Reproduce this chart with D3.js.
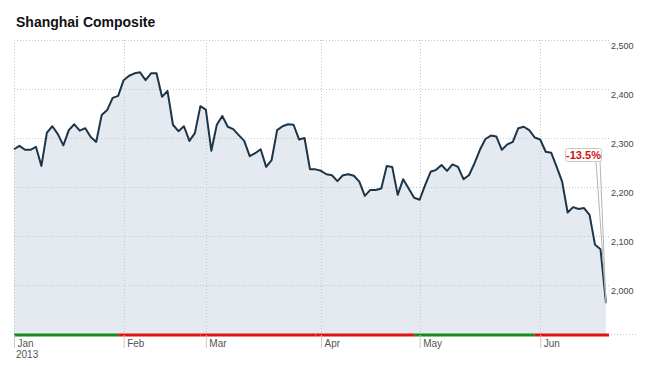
<!DOCTYPE html>
<html>
  <head>
    <meta charset="utf-8">
    <style>
      body { margin: 0; background: #fff; }
      text { font-family: Arial, "Liberation Sans", sans-serif; }
    </style>
  </head>
  <body>
    <script src="https://d3js.org/d3.v7.min.js"></script>
    <script>
      // trading days per month (day of month), Jan..Jun 2013
      var monthLabels = ["Jan", "Feb", "Mar", "Apr", "May", "Jun"];
      var tradingDays = [
        [4, 7, 8, 9, 10, 11, 14, 15, 16, 17, 18, 21, 22, 23, 24, 25, 28, 29, 30, 31],
        [1, 4, 5, 6, 7, 8, 18, 19, 20, 21, 22, 25, 26, 27, 28],
        [1, 4, 5, 6, 7, 8, 11, 12, 13, 14, 15, 18, 19, 20, 21, 22, 25, 26, 27, 28, 29],
        [1, 2, 3, 8, 9, 10, 11, 12, 15, 16, 17, 18, 19, 22, 23, 24, 25, 26],
        [2, 3, 6, 7, 8, 9, 10, 13, 14, 15, 16, 17, 20, 21, 22, 23, 24, 27, 28, 29, 30, 31],
        [3, 4, 5, 6, 7, 13, 14, 17, 18, 19, 20, 21, 24]
      ];
      var closes = [
        2277, 2284, 2276, 2276, 2282, 2243, 2311, 2324, 2308, 2285, 2316, 2328, 2315, 2320, 2302, 2292, 2347, 2357, 2382, 2386,
        2418, 2427, 2432, 2434, 2418, 2432, 2432, 2384, 2396, 2327, 2314, 2324, 2294, 2310, 2365,
        2358, 2274, 2327, 2345, 2323, 2318, 2306, 2294, 2263, 2269, 2277, 2241, 2255, 2316, 2324, 2328, 2327, 2297, 2300, 2236, 2236,
        2233, 2226, 2224, 2212, 2224, 2226, 2223, 2211, 2182, 2194, 2194, 2197, 2243, 2241, 2184, 2216, 2197, 2178,
        2174, 2204, 2231, 2235, 2245, 2233, 2246, 2241, 2216, 2224, 2248, 2276, 2298, 2305, 2303, 2276, 2287, 2292, 2320, 2323, 2316, 2301,
        2297, 2272, 2270, 2241, 2211, 2148, 2159, 2155, 2157, 2143, 2082, 2073, 1963
      ];
      var prevYearClose = 2269;
      var yTicks = [2000, 2100, 2200, 2300, 2400, 2500];

      var W = 652, H = 366;
      var plotL = 14, plotR = 609, plotT = 40, plotB = 334;

      // build rows: index, month, close
      var rows = [];
      tradingDays.forEach(function (days, m) {
        days.forEach(function (d) {
          rows.push({ i: rows.length, month: m, day: d, close: closes[rows.length] });
        });
      });
      var monthStart = monthLabels.map(function (m, k) {
        return rows.find(function (r) { return r.month === k; }).i;
      });
      var monthEnd = monthLabels.map(function (m, k) {
        return rows.filter(function (r) { return r.month === k; }).pop().i;
      });

      var x = d3.scaleLinear().domain([0, rows.length - 1]).range([plotL, 606]);
      var y = d3.scaleLinear().domain([1900, 2500]).range([plotB, plotT]);

      var svg = d3.select('body').append('svg')
        .attr('width', W).attr('height', H);

      svg.append('text')
        .attr('x', 16).attr('y', 27)
        .style('font-size', '14px').style('font-weight', 'bold')
        .attr('fill', '#111')
        .text('Shanghai Composite');

      // area
      svg.append('path')
        .datum(rows)
        .attr('fill', '#e5eaf1')
        .attr('d', d3.area().x(function (d) { return x(d.i); })
          .y0(plotB).y1(function (d) { return y(d.close); }));

      // horizontal grid
      svg.append('g').selectAll('line').data(yTicks).enter().append('line')
        .attr('x1', plotL).attr('x2', plotR)
        .attr('y1', function (d) { return Math.round(y(d)) + 0.5; })
        .attr('y2', function (d) { return Math.round(y(d)) + 0.5; })
        .attr('stroke', '#c8c8c8').attr('stroke-dasharray', '1,2');

      // vertical month grid
      svg.append('g').selectAll('line').data(monthStart).enter().append('line')
        .attr('x1', function (d) { return Math.round(x(d)) + 0.5; })
        .attr('x2', function (d) { return Math.round(x(d)) + 0.5; })
        .attr('y1', plotT).attr('y2', plotB)
        .attr('stroke', '#c8c8c8').attr('stroke-dasharray', '1,2');

      // bottom dotted baseline
      svg.append('line')
        .attr('x1', plotL).attr('x2', 637)
        .attr('y1', plotB + 0.5).attr('y2', plotB + 0.5)
        .attr('stroke', '#c8c8c8').attr('stroke-dasharray', '1,2');

      // price line
      svg.append('path')
        .datum(rows)
        .attr('fill', 'none')
        .attr('stroke', '#1d3549')
        .attr('stroke-width', 2)
        .attr('stroke-linejoin', 'round')
        .attr('d', d3.line().x(function (d) { return x(d.i); })
          .y(function (d) { return y(d.close); }));

      // y labels on the right
      var yAxis = svg.append('g')
        .attr('transform', 'translate(' + (plotR + 2) + ',0)')
        .call(d3.axisRight(y).tickValues(yTicks).tickSize(0)
          .tickFormat(d3.format(',')));
      yAxis.select('.domain').remove();
      yAxis.selectAll('text')
        .attr('dy', '0.95em').attr('x', 0)
        .attr('fill', '#444')
        .style('font-size', '9px').style('font-family', 'Arial, "Liberation Sans", sans-serif');

      // monthly up/down bar
      var monthClose = monthEnd.map(function (e) { return rows[e].close; });
      svg.append('g').selectAll('line').data(monthLabels).enter().append('line')
        .attr('x1', function (d, k) { return k === 0 ? x(0) : x(monthEnd[k - 1]); })
        .attr('x2', function (d, k) { return x(monthEnd[k]) + (k === 5 ? 3 : 0); })
        .attr('y1', plotB + 1).attr('y2', plotB + 1)
        .attr('stroke-width', 3)
        .attr('stroke', function (d, k) {
          var prev = k === 0 ? prevYearClose : monthClose[k - 1];
          return monthClose[k] >= prev ? '#178a17' : '#de1212';
        });

      // x axis month ticks
      var xAxis = svg.append('g')
        .attr('transform', 'translate(0,' + (plotB + 1) + ')')
        .call(d3.axisBottom(x).tickValues(monthStart).tickSize(13)
          .tickFormat(function (d, k) { return monthLabels[k]; }));
      xAxis.select('.domain').remove();
      xAxis.selectAll('.tick line').attr('stroke', '#c8c8c8');
      xAxis.selectAll('.tick text')
        .attr('text-anchor', 'start').attr('x', 3).attr('y', 5).attr('dy', '0.71em')
        .attr('fill', '#555')
        .style('font-size', '10px').style('font-family', 'Arial, "Liberation Sans", sans-serif');
      svg.append('text')
        .attr('x', x(0) + 2).attr('y', 358)
        .attr('fill', '#555').style('font-size', '10px')
        .text('2013');

      // change callout
      var last = rows[rows.length - 1];
      var pct = (last.close / prevYearClose - 1) * 100;
      var lx = x(last.i), ly = y(last.close);
      svg.append('path')
        .attr('d', 'M596,161L' + lx + ',' + ly + 'L600,161')
        .attr('fill', 'none').attr('stroke', '#b5b5b5').attr('stroke-width', 1);
      svg.append('rect')
        .attr('x', 565.5).attr('y', 148.5).attr('width', 36).attr('height', 13).attr('rx', 2)
        .attr('fill', '#fff').attr('stroke', '#c8c8c8');
      svg.append('text')
        .attr('x', 583.5).attr('y', 159)
        .attr('text-anchor', 'middle')
        .attr('fill', '#d31010')
        .style('font-size', '11px').style('font-weight', 'bold')
        .text(pct.toFixed(1) + '%');
    </script>
  </body>
</html>
